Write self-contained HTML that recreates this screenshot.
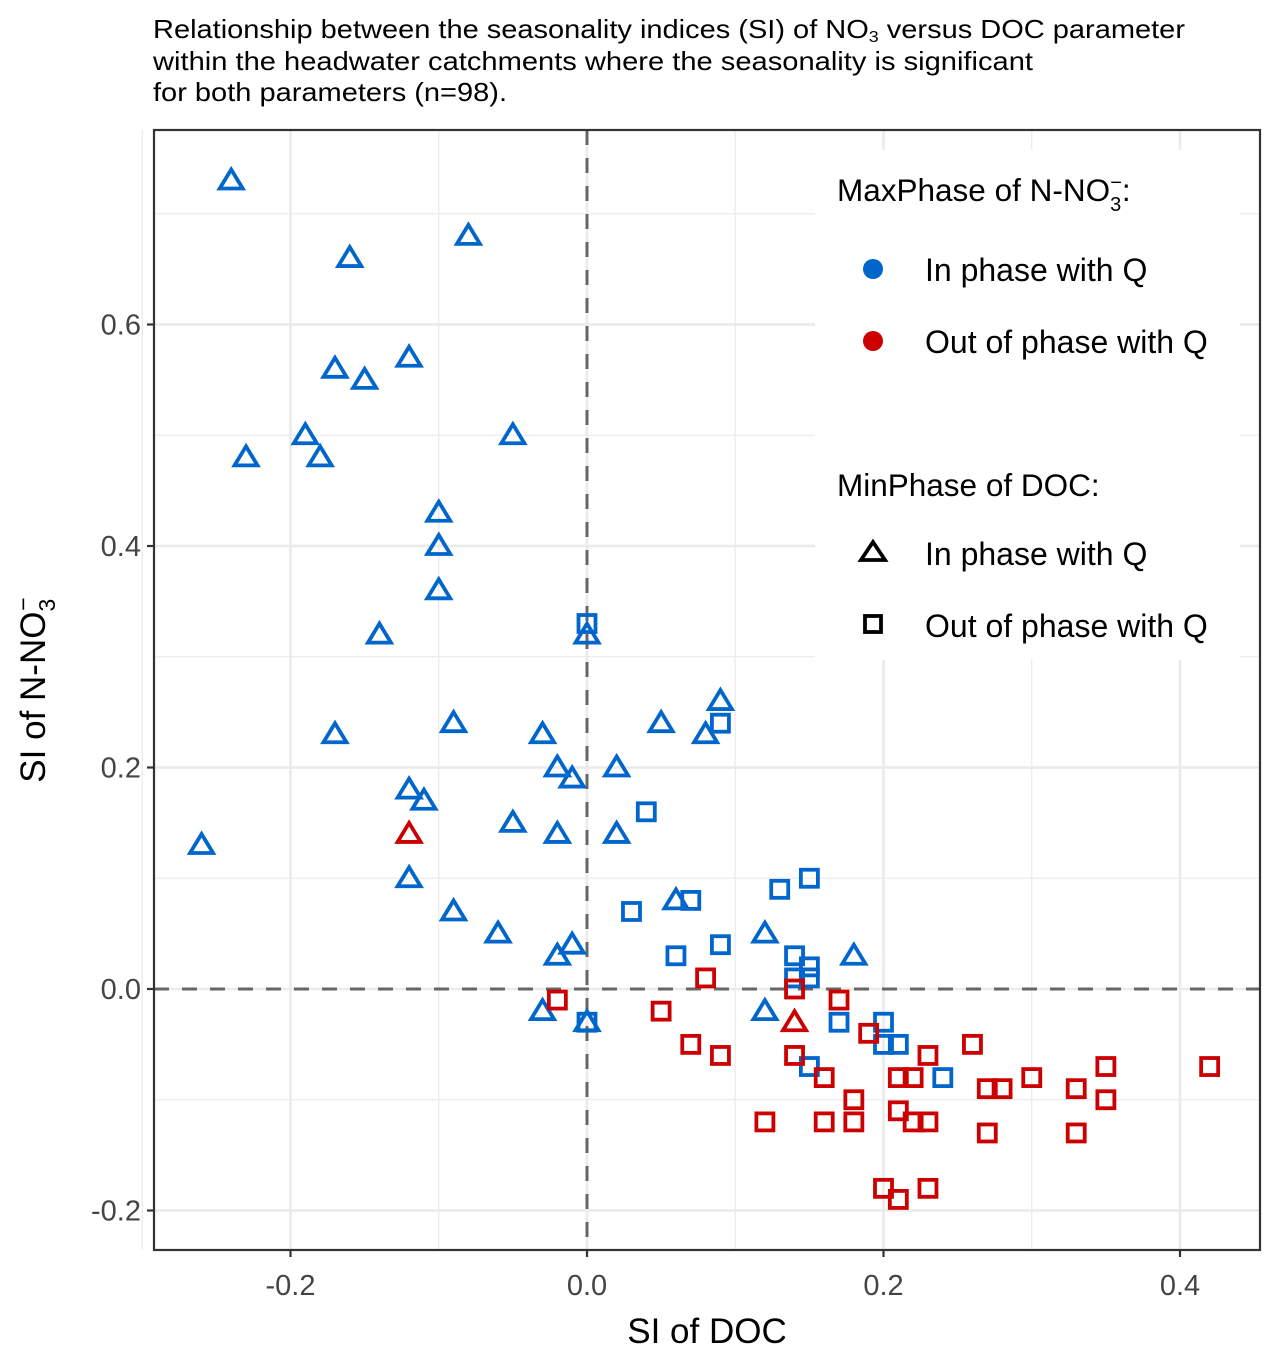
<!DOCTYPE html>
<html><head><meta charset="utf-8">
<style>
html,body{margin:0;padding:0;background:#fff;}
svg{display:block;font-family:"Liberation Sans",Arial,sans-serif;}
</style></head>
<body>
<svg id="chart" width="1280" height="1362" viewBox="0 0 1280 1362">
<text x="153" y="38" font-size="26" fill="#000" textLength="1032" lengthAdjust="spacingAndGlyphs">Relationship between the seasonality indices (SI) of NO<tspan font-size="16" dy="4">3</tspan><tspan dy="-4"> versus DOC parameter</tspan></text>
<text x="153" y="70" font-size="26" fill="#000" textLength="880" lengthAdjust="spacingAndGlyphs">within the headwater catchments where the seasonality is significant</text>
<text x="153" y="101" font-size="26" fill="#000" textLength="354" lengthAdjust="spacingAndGlyphs">for both parameters (n=98).</text>
<g id="grid"></g>
<g id="refs"></g>
<g id="pts"></g>
<g id="axes"></g>
<g id="legend">
  <rect x="815" y="150" width="425" height="510" fill="#fff"/>
  <text x="837" y="201" font-size="31.5">MaxPhase of N-NO<tspan font-size="20" dy="10">3</tspan><tspan font-size="20" dx="-11" dy="-22">−</tspan><tspan font-size="31.5" dy="12">:</tspan></text>
  <circle cx="873" cy="269" r="10" fill="#0066CC"/>
  <text x="925" y="281" font-size="32">In phase with Q</text>
  <circle cx="873" cy="341" r="10" fill="#CC0000"/>
  <text x="925" y="353" font-size="32">Out of phase with Q</text>
  <text x="837" y="496" font-size="31.5">MinPhase of DOC:</text>
  <path d="M873,542 L885,560 L861,560 Z" fill="none" stroke="#000" stroke-width="3.8"/>
  <text x="925" y="565" font-size="32">In phase with Q</text>
  <rect x="865" y="616" width="16" height="16" fill="none" stroke="#000" stroke-width="3.8"/>
  <text x="925" y="637" font-size="32">Out of phase with Q</text>
</g>
<text x="707" y="1343" font-size="35" text-anchor="middle">SI of DOC</text>
<text transform="translate(45,690) rotate(-90)" font-size="35" text-anchor="middle">SI of N-NO<tspan font-size="23" dy="10">3</tspan><tspan font-size="23" dx="-12" dy="-24">−</tspan></text>
</svg>
<script>
const xTicks=[-0.2,0.0,0.2,0.4];
const yTicks=[-0.2,0.0,0.2,0.4,0.6];
const xMinor=[-0.3,-0.1,0.1,0.3];
const yMinor=[-0.1,0.1,0.3,0.5,0.7];
const btX=[-0.24,-0.08,-0.16,-0.12,-0.17,-0.15,-0.19,-0.05,-0.23,-0.18,-0.10,-0.10,-0.10,-0.14,0.0,0.09,-0.09,0.05,-0.17,-0.03,0.08,-0.02,0.02,-0.01,-0.12,-0.11,-0.05,-0.02,0.02,-0.26,-0.12,0.06,-0.09,-0.06,0.12,-0.01,-0.02,0.18,-0.03,0.12,0.0];
const btY=[0.73,0.68,0.66,0.57,0.56,0.55,0.50,0.50,0.48,0.48,0.43,0.40,0.36,0.32,0.32,0.26,0.24,0.24,0.23,0.23,0.23,0.20,0.20,0.19,0.18,0.17,0.15,0.14,0.14,0.13,0.10,0.08,0.07,0.05,0.05,0.04,0.03,0.03,-0.02,-0.02,-0.03];
const rtX=[-0.12,0.14];
const rtY=[0.14,-0.03];
const bsX=[0.0,0.09,0.04,0.15,0.13,0.07,0.03,0.09,0.06,0.14,0.15,0.14,0.15,0.17,0.20,0.0,0.20,0.21,0.15,0.24];
const bsY=[0.33,0.24,0.16,0.10,0.09,0.08,0.07,0.04,0.03,0.03,0.02,0.01,0.01,-0.03,-0.03,-0.03,-0.05,-0.05,-0.07,-0.08];
const rsX=[-0.02,0.08,0.14,0.17,0.05,0.19,0.07,0.26,0.09,0.14,0.23,0.42,0.35,0.16,0.21,0.22,0.30,0.27,0.28,0.33,0.18,0.35,0.21,0.12,0.16,0.18,0.22,0.23,0.27,0.33,0.20,0.23,0.21];
const rsY=[-0.01,0.01,0.0,-0.01,-0.02,-0.04,-0.05,-0.05,-0.06,-0.06,-0.06,-0.07,-0.07,-0.08,-0.08,-0.08,-0.08,-0.09,-0.09,-0.09,-0.10,-0.10,-0.11,-0.12,-0.12,-0.12,-0.12,-0.12,-0.13,-0.13,-0.18,-0.18,-0.19];

const L=154,T=130,R=1260,B=1250;
const sx=v=>587+v*1482.5;
const sy=v=>989-v*1107.5;
const NS="http://www.w3.org/2000/svg";
function mk(tag,attrs,parent){const e=document.createElementNS(NS,tag);for(const k in attrs)e.setAttribute(k,attrs[k]);parent.appendChild(e);return e;}
const grid=document.getElementById('grid'),refs=document.getElementById('refs'),pts=document.getElementById('pts'),axes=document.getElementById('axes');
mk('rect',{x:L,y:T,width:R-L,height:B-T,fill:'#fff'},grid);
xMinor.forEach(v=>{const l=mk('line',{x1:sx(v),x2:sx(v),y1:T,y2:B,stroke:'#ebebeb','stroke-width':1.3},grid);

});
yMinor.forEach(v=>{const l=mk('line',{x1:L,x2:R,y1:sy(v),y2:sy(v),stroke:'#ebebeb','stroke-width':1.3},grid);

});
xTicks.forEach(v=>{const l=mk('line',{x1:sx(v),x2:sx(v),y1:T,y2:B,stroke:'#ebebeb','stroke-width':2.7},grid);


const tk=mk('line',{x1:sx(v),x2:sx(v),y1:B,y2:B+7,stroke:'#333','stroke-width':2.2},axes);


const t=mk('text',{x:sx(v),y:B+45,'font-size':29,'text-anchor':'middle',fill:'#444'},axes);t.textContent=v.toFixed(1);

});
yTicks.forEach(v=>{const l=mk('line',{x1:L,x2:R,y1:sy(v),y2:sy(v),stroke:'#ebebeb','stroke-width':2.7},grid);


const tk=mk('line',{x1:L-7,x2:L,y1:sy(v),y2:sy(v),stroke:'#333','stroke-width':2.2},axes);


const t=mk('text',{x:L-13,y:sy(v)+10,'font-size':29,'text-anchor':'end',fill:'#444'},axes);t.textContent=v.toFixed(1);

});
const vl=mk('line',{x1:sx(0),x2:sx(0),y1:T,y2:B,stroke:'#666','stroke-width':3,'stroke-dasharray':'15,13'},refs);


const hl=mk('line',{x1:L,x2:R,y1:sy(0),y2:sy(0),stroke:'#666','stroke-width':3,'stroke-dasharray':'15,13'},refs);


function tri(x,y,c){const cx=sx(x),cy=sy(y);
const p=mk('path',{d:`M${cx},${cy-11} L${cx+11.5},${cy+8} L${cx-11.5},${cy+8} Z`,fill:'none',stroke:c,'stroke-width':3.8},pts);

}
function sq(x,y,c){const cx=sx(x),cy=sy(y);
const p=mk('rect',{x:cx-8.5,y:cy-8.5,width:17,height:17,fill:'none',stroke:c,'stroke-width':3.8},pts);

}
btX.forEach((x,i)=>tri(x,btY[i],'#0066CC'));
rtX.forEach((x,i)=>tri(x,rtY[i],'#CC0000'));
bsX.forEach((x,i)=>sq(x,bsY[i],'#0066CC'));
rsX.forEach((x,i)=>sq(x,rsY[i],'#CC0000'));
const fr=mk('rect',{x:L,y:T,width:R-L,height:B-T,fill:'none',stroke:'#333','stroke-width':2.2},axes);


</script>
</body></html>
